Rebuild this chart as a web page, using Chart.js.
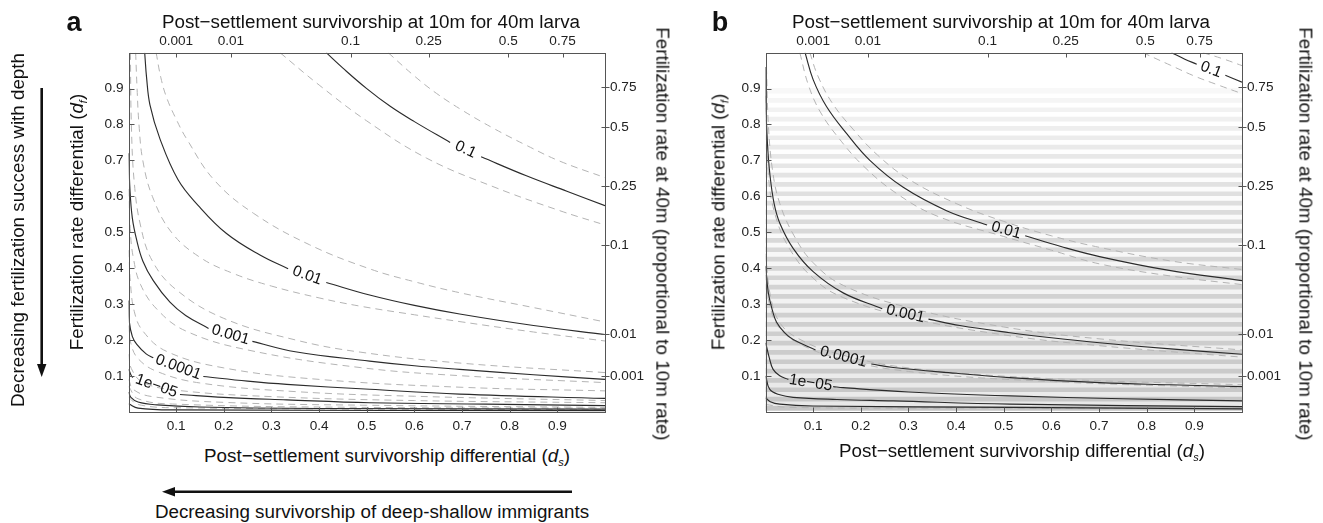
<!DOCTYPE html>
<html>
<head>
<meta charset="utf-8">
<script src="https://cdn.jsdelivr.net/npm/chart.js@4.4.1/dist/chart.umd.min.js"></script>
<style>
body { margin: 0; background: #fff; width: 1323px; height: 523px; overflow: hidden; position: relative;
       font-family: "Liberation Sans", Arial, sans-serif; color: #111; }
.painel { position: absolute; top: 0; width: 660px; height: 440px; }
.t { position: absolute; white-space: nowrap; font-size: 18.8px; line-height: 1; transform: translate(-50%, -50%); }
.t sub { font-size: 11px; vertical-align: -4px; font-style: italic; }
.rl { transform: translate(-50%, -50%) rotate(-90deg); }
.rr { transform: translate(-50%, -50%) rotate(90deg); }
.letra { position: absolute; font-weight: bold; font-size: 27px; line-height: 1; transform: translate(-50%, -50%); }
svg { position: absolute; left: 0; top: 0; }
</style>
</head>
<body>
<div class="painel" style="left:0"><canvas id="chart_a"></canvas></div>
<div class="painel" style="left:637px"><canvas id="chart_b"></canvas></div>

<div class="letra" style="left:74px;top:22px">a</div>
<div class="letra" style="left:720px;top:22px">b</div>
<div class="t" style="left:371px;top:22px">Post−settlement survivorship at 10m for 40m larva</div>
<div class="t" style="left:1001px;top:22px">Post−settlement survivorship at 10m for 40m larva</div>
<div class="t" style="left:387px;top:457px">Post−settlement survivorship differential (<i>d</i><sub>s</sub>)</div>
<div class="t" style="left:1022px;top:452px">Post−settlement survivorship differential (<i>d</i><sub>s</sub>)</div>
<div class="t rl" style="left:78px;top:222px">Fertilization rate differential (<i>d</i><sub>f</sub>)</div>
<div class="t rl" style="left:720px;top:222px">Fertilization rate differential (<i>d</i><sub>f</sub>)</div>
<div class="t rr" style="left:662px;top:234px">Fertilization rate at 40m (proportional to 10m rate)</div>
<div class="t rr" style="left:1305px;top:234px">Fertilization rate at 40m (proportional to 10m rate)</div>
<div class="t rl" style="left:18px;top:230px">Decreasing fertilization success with depth</div>
<div class="t" style="left:372px;top:512px">Decreasing survivorship of deep-shallow immigrants</div>

<svg width="1323" height="523">
  <line x1="41.7" y1="88" x2="41.7" y2="366" stroke="#111" stroke-width="2.6"/>
  <polygon points="37,364 46.4,364 41.7,377" fill="#111"/>
  <line x1="572" y1="491.7" x2="173" y2="491.7" stroke="#111" stroke-width="2.6"/>
  <polygon points="175,487 175,496.4 162,491.7" fill="#111"/>
</svg>

<script>
// ---------- eixos ----------
const ticksBase = [0.1, 0.2, 0.3, 0.4, 0.5, 0.6, 0.7, 0.8, 0.9];
const ticksTopoPos = [0.1, 0.215, 0.466, 0.63, 0.797, 0.911];
const ticksTopoLabels = ['0.001', '0.01', '0.1', '0.25', '0.5', '0.75'];
const ticksDireitaPos = [0.1, 0.216, 0.465, 0.629, 0.792, 0.905];
const ticksDireitaLabels = ['0.001', '0.01', '0.1', '0.25', '0.5', '0.75'];

// ---------- painel a: curvas [ds, df] (null = espaço do rótulo) ----------
const a_s1 = [[0.415,1.0],[0.45,0.957],[0.5,0.9],[0.55,0.85],[0.6,0.808],[0.675,0.75],[0.708,null],[0.74,0.71],[0.835,0.657],[0.92,0.614],[1.0,0.574]];
const a_d1u = [[0.545,1.0],[0.6,0.935],[0.646,0.887],[0.7,0.84],[0.765,0.79],[0.835,0.742],[0.905,0.698],[1.0,0.652]];
const a_d1l = [[0.318,1.0],[0.4,0.91],[0.5,0.81],[0.626,0.706],[0.765,0.627],[0.905,0.56],[1.0,0.52]];
const a_s2 = [[0.034,1.0],[0.038,0.93],[0.045,0.855],[0.066,0.76],[0.104,0.646],[0.146,0.575],[0.205,0.497],[0.275,0.437],[0.335,0.398],[0.375,null],[0.415,0.36],[0.506,0.325],[0.6,0.296],[0.695,0.272],[0.85,0.24],[1.0,0.215]];
const a_d2u = [[0.058,1.0],[0.068,0.93],[0.08,0.875],[0.1,0.815],[0.122,0.76],[0.18,0.645],[0.262,0.553],[0.38,0.465],[0.506,0.398],[0.6,0.362],[0.7,0.33],[0.85,0.29],[1.0,0.25]];
const a_d2l = [[0.015,1.0],[0.018,0.9],[0.022,0.8],[0.03,0.7],[0.05,0.6],[0.09,0.5],[0.15,0.43],[0.22,0.385],[0.3,0.35],[0.4,0.317],[0.486,0.294],[0.6,0.27],[0.7,0.25],[0.85,0.222],[1.0,0.197]];
const a_s3 = [[0.0005,0.72],[0.003,0.62],[0.008,0.54],[0.017,0.479],[0.03,0.42],[0.052,0.365],[0.087,0.305],[0.12,0.268],[0.168,0.232],[0.214,null],[0.26,0.196],[0.35,0.167],[0.506,0.141],[0.6,0.128],[0.695,0.118],[0.85,0.103],[1.0,0.09]];
const a_d3u = [[0.004,1.0],[0.006,0.8],[0.012,0.64],[0.025,0.52],[0.05,0.42],[0.1,0.34],[0.2,0.26],[0.35,0.2],[0.486,0.166],[0.7,0.135],[1.0,0.109]];
const a_d3l = [[0.0005,0.62],[0.004,0.5],[0.01,0.43],[0.025,0.355],[0.06,0.285],[0.12,0.225],[0.25,0.172],[0.486,0.123],[0.7,0.1],[1.0,0.081]];
const a_s4 = [[0.0005,0.31],[0.002,0.248],[0.008,0.21],[0.017,0.188],[0.037,0.161],[0.052,0.15],[0.105,null],[0.157,0.098],[0.25,0.085],[0.332,0.076],[0.506,0.0625],[0.695,0.049],[1.0,0.037]];
const a_d4u = [[0.0005,0.45],[0.004,0.36],[0.012,0.28],[0.03,0.225],[0.08,0.168],[0.2,0.122],[0.4,0.09],[0.7,0.068],[1.0,0.058]];
const a_d4l = [[0.0005,0.24],[0.005,0.19],[0.02,0.148],[0.06,0.112],[0.15,0.08],[0.35,0.056],[0.6,0.043],[1.0,0.031]];
const a_s5 = [[0.0005,0.118],[0.006,0.1],[0.009,0.095],[0.058,null],[0.108,0.048],[0.2,0.04],[0.332,0.033],[0.506,0.025],[0.75,0.021],[1.0,0.017]];
const a_d5u = [[0.0005,0.16],[0.006,0.12],[0.03,0.082],[0.1,0.06],[0.3,0.042],[0.6,0.031],[1.0,0.025]];
const a_d5l = [[0.0005,0.09],[0.01,0.062],[0.05,0.042],[0.2,0.026],[0.5,0.018],[1.0,0.012]];
const a_s6 = [[0.0005,0.055],[0.005,0.04],[0.02,0.027],[0.06,0.019],[0.15,0.013],[0.4,0.009],[1.0,0.007]];
const a_d6u = [[0.0005,0.07],[0.02,0.036],[0.1,0.021],[0.5,0.012],[1.0,0.01]];
const a_d6l = [[0.0005,0.04],[0.02,0.02],[0.1,0.011],[1.0,0.005]];
const a_s7 = [[0.0005,0.022],[0.02,0.01],[0.1,0.005],[1.0,0.003]];

// ---------- painel b ----------
const b_s1 = [[0.852,1.0],[0.88,0.982],[0.905,0.968],[0.935,null],[0.965,0.937],[1.0,0.918]];
const b_d1u = [[0.918,1.0],[0.96,0.983],[1.0,0.964]];
const b_d1l = [[0.792,1.0],[0.85,0.965],[0.9,0.935],[0.95,0.91],[1.0,0.886]];
const b_s2 = [[0.083,1.0],[0.1,0.925],[0.128,0.85],[0.17,0.775],[0.219,0.70],[0.289,0.625],[0.38,0.56],[0.465,0.52],[0.505,null],[0.545,0.49],[0.62,0.46],[0.701,0.432],[0.841,0.395],[1.0,0.365]];
const b_d2u = [[0.093,1.0],[0.11,0.935],[0.14,0.86],[0.185,0.785],[0.235,0.715],[0.3,0.648],[0.4,0.58],[0.5,0.53],[0.6,0.49],[0.7,0.458],[0.85,0.42],[1.0,0.396]];
const b_d2l = [[0.072,1.0],[0.09,0.91],[0.115,0.835],[0.155,0.76],[0.205,0.685],[0.275,0.608],[0.36,0.545],[0.5,0.488],[0.6,0.45],[0.7,0.412],[0.85,0.378],[1.0,0.354]];
const b_s3 = [[0.0005,0.96],[0.001,0.85],[0.004,0.75],[0.009,0.664],[0.018,0.58],[0.03,0.525],[0.058,0.455],[0.1,0.39],[0.163,0.331],[0.245,0.287],[0.295,null],[0.342,0.258],[0.408,0.24],[0.513,0.22],[0.6,0.206],[0.701,0.192],[0.85,0.175],[1.0,0.16]];
const b_d3u = [[0.002,0.96],[0.006,0.8],[0.015,0.67],[0.03,0.58],[0.06,0.49],[0.1,0.415],[0.163,0.352],[0.3,0.29],[0.5,0.236],[0.7,0.203],[1.0,0.172]];
const b_d3l = [[0.0005,0.88],[0.006,0.66],[0.02,0.55],[0.05,0.455],[0.1,0.372],[0.163,0.318],[0.3,0.262],[0.5,0.214],[0.7,0.184],[1.0,0.152]];
const b_s4 = [[0.0005,0.405],[0.006,0.331],[0.015,0.28],[0.023,0.25],[0.04,0.22],[0.058,0.201],[0.105,0.172],[0.165,null],[0.222,0.133],[0.268,0.123],[0.4,0.107],[0.513,0.095],[0.701,0.081],[0.85,0.075],[1.0,0.07]];
const b_d4u = [[0.0005,0.44],[0.01,0.325],[0.03,0.248],[0.07,0.203],[0.15,0.162],[0.3,0.122],[0.6,0.092],[1.0,0.075]];
const b_d4l = [[0.0005,0.38],[0.01,0.29],[0.03,0.232],[0.07,0.19],[0.15,0.15],[0.3,0.112],[0.6,0.084],[1.0,0.066]];
const b_s5 = [[0.0005,0.192],[0.008,0.15],[0.016,0.118],[0.03,0.1],[0.048,0.09],[0.095,null],[0.142,0.07],[0.163,0.067],[0.3,0.055],[0.513,0.044],[0.75,0.036],[1.0,0.03]];
const b_s6 = [[0.0005,0.1],[0.009,0.062],[0.03,0.047],[0.058,0.04],[0.15,0.034],[0.268,0.03],[0.513,0.021],[1.0,0.014]];
const b_s7 = [[0.0005,0.039],[0.01,0.028],[0.03,0.021],[0.1,0.016],[0.513,0.012],[1.0,0.008]];
const b_d7 = [[0.0005,0.02],[0.05,0.012],[0.5,0.01],[1.0,0.009]];

// faixas do fundo do painel b (df do centro da faixa, nível de cinza)
const faixasDf = [0.010,0.023,0.036,0.049,0.062,0.075,0.088,0.101,0.114,0.127,0.140,0.153,0.166,0.179,0.192,0.205,0.218,0.231,0.244,0.257,0.270,0.283,0.296,0.309,0.322,0.335,0.348,0.361,0.374,0.387,0.400,0.413,0.426,0.439,0.452,0.465,0.478,0.491,0.504,0.517,0.530,0.543,0.556,0.569,0.582,0.595,0.608,0.621,0.634,0.647,0.660,0.673,0.686,0.699,0.712,0.725,0.738,0.751,0.764,0.777,0.790,0.803,0.816,0.829,0.842,0.855,0.868,0.881,0.894];
const faixasCinza = [198,232,199,234,200,233,201,235,202,236,203,236,204,238,205,237,206,239,207,240,208,241,209,242,210,243,211,244,212,245,213,246,214,247,215,248,216,249,217,250,219,250,220,251,222,252,224,252,226,253,228,253,230,254,232,254,234,254,236,255,238,255,240,255,242,255,245,255,248];

const serieA = [
  [a_d1u,'d'],[a_d1l,'d'],[a_d2u,'d'],[a_d2l,'d'],[a_d3u,'d'],[a_d3l,'d'],[a_d4u,'d'],[a_d4l,'d'],[a_d5u,'d'],[a_d5l,'d'],[a_d6u,'d'],[a_d6l,'d'],
  [a_s1,'s','0.1'],[a_s2,'s','0.01'],[a_s3,'s','0.001'],[a_s4,'s','0.0001'],[a_s5,'s','1e−05'],[a_s6,'s'],[a_s7,'s']
];
const serieB = [
  [b_d1u,'d'],[b_d1l,'d'],[b_d2u,'d'],[b_d2l,'d'],[b_d3u,'d'],[b_d3l,'d'],[b_d4u,'d'],[b_d4l,'d'],[b_d7,'d'],
  [b_s1,'s','0.1'],[b_s2,'s','0.01'],[b_s3,'s','0.001'],[b_s4,'s','0.0001'],[b_s5,'s','1e−05'],[b_s6,'s'],[b_s7,'s']
];

Chart.defaults.font.family = '"Liberation Sans", Arial, sans-serif';
const fonteTick = { size: 13.6 };

function montarLinhas(serie) {
  return serie.map(function (s) {
    const tracejada = s[1] == 'd';
    return {
      type: 'line',
      data: s[0].map(p => ({ x: p[0], y: p[1] })),
      xAxisID: 'x', yAxisID: 'y',
      borderColor: tracejada ? '#b4b4b4' : '#2b2b2b',
      borderWidth: tracejada ? 1 : 1.15,
      borderDash: tracejada ? [7, 5] : [],
      pointRadius: 0,
      tension: 0.4,
      spanGaps: false,
      fill: false,
      order: tracejada ? 1 : 0,
      rotulo: s[2]
    };
  });
}

function montarEixos() {
  const semGrade = { display: false, drawTicks: false };
  return {
    x: {
      type: 'linear', position: 'bottom', min: 0, max: 1, offset: false,
      grid: semGrade, border: { display: false },
      afterBuildTicks: s => { s.ticks = ticksBase.map(v => ({ value: v })); },
      ticks: { padding: 6, font: fonteTick, color: '#222', maxRotation: 0, autoSkip: false, callback: v => String(v) },
      afterFit: s => { s.height = 28.3; }
    },
    xTopo: {
      type: 'linear', position: 'top', min: 0, max: 1, offset: false,
      grid: semGrade, border: { display: false },
      afterBuildTicks: s => { s.ticks = ticksTopoPos.map(v => ({ value: v })); },
      ticks: { padding: 3, font: fonteTick, color: '#222', maxRotation: 0, autoSkip: false, callback: (v, i) => ticksTopoLabels[i] },
      afterFit: s => { s.height = 52.7; }
    },
    y: {
      type: 'linear', position: 'left', min: 0, max: 1, offset: false,
      grid: { display: false, drawTicks: false, offset: false }, border: { display: false },
      afterBuildTicks: s => { s.ticks = ticksBase.map(v => ({ value: v })); },
      ticks: { padding: 5, font: fonteTick, color: '#222', autoSkip: false, callback: v => String(v) },
      afterFit: s => { s.width = 128.5; }
    },
    yDireita: {
      type: 'linear', position: 'right', min: 0, max: 1, offset: false,
      grid: semGrade, border: { display: false },
      afterBuildTicks: s => { s.ticks = ticksDireitaPos.map(v => ({ value: v })); },
      ticks: { padding: 5, font: fonteTick, color: '#222', autoSkip: false, callback: (v, i) => ticksDireitaLabels[i] },
      afterFit: s => { s.width = 55; }
    }
  };
}

// moldura, marcas dos eixos e rótulos das curvas
const acabamento = {
  id: 'acabamento',
  afterDatasetsDraw(chart) {
    const ctx = chart.ctx;
    const a = chart.chartArea;
    const sc = chart.scales;
    ctx.save();
    chart.data.datasets.forEach(function (ds, i) {
      if (!ds.rotulo) return;
      const meta = chart.getDatasetMeta(i);
      const j = ds.data.findIndex(p => p.y === null);
      const p0 = meta.data[j - 1], p1 = meta.data[j + 1];
      ctx.save();
      ctx.translate((p0.x + p1.x) / 2, (p0.y + p1.y) / 2);
      ctx.rotate(Math.atan2(p1.y - p0.y, p1.x - p0.x));
      ctx.font = '15.5px "Liberation Sans", Arial, sans-serif';
      ctx.fillStyle = '#111';
      ctx.textAlign = 'center';
      ctx.textBaseline = 'middle';
      ctx.fillText(ds.rotulo, 0, 0);
      ctx.restore();
    });

    const L = Math.round(a.left) + 0.5, R = Math.round(a.right) + 0.5;
    const T = Math.round(a.top) + 0.5, B = Math.round(a.bottom) + 0.5;
    ctx.strokeStyle = '#555';
    ctx.lineWidth = 1;
    ctx.strokeRect(L, T, R - L, B - T);
    ctx.beginPath();
    sc.x.ticks.forEach(t => { const p = Math.round(sc.x.getPixelForValue(t.value)) + 0.5; ctx.moveTo(p, B); ctx.lineTo(p, B - 5); });
    sc.xTopo.ticks.forEach(t => { const p = Math.round(sc.xTopo.getPixelForValue(t.value)) + 0.5; ctx.moveTo(p, T); ctx.lineTo(p, T + 4); });
    sc.y.ticks.forEach(t => { const p = Math.round(sc.y.getPixelForValue(t.value)) + 0.5; ctx.moveTo(L, p); ctx.lineTo(L + 5, p); });
    sc.yDireita.ticks.forEach(t => { const p = Math.round(sc.yDireita.getPixelForValue(t.value)) + 0.5; ctx.moveTo(R - 4, p); ctx.lineTo(R + 4, p); });
    ctx.stroke();
    ctx.restore();
  }
};

function criarGrafico(id, datasets) {
  return new Chart(document.getElementById(id), {
    type: 'scatter',
    data: { datasets: datasets },
    options: {
      responsive: true,
      maintainAspectRatio: false,
      animation: false,
      layout: { padding: 0 },
      plugins: { legend: { display: false }, tooltip: { enabled: false } },
      scales: montarEixos()
    },
    plugins: [acabamento]
  });
}

criarGrafico('chart_a', montarLinhas(serieA));

const faixas = {
  type: 'bar',
  indexAxis: 'y',
  xAxisID: 'x', yAxisID: 'y',
  data: faixasDf.map(v => ({ y: v, x: [0, 1] })),
  backgroundColor: faixasCinza.map(g => 'rgb(' + g + ',' + g + ',' + g + ')'),
  borderWidth: 0,
  grouped: false,
  barPercentage: 1,
  categoryPercentage: 1,
  order: 5
};
criarGrafico('chart_b', [faixas].concat(montarLinhas(serieB)));
</script>
</body>
</html>
